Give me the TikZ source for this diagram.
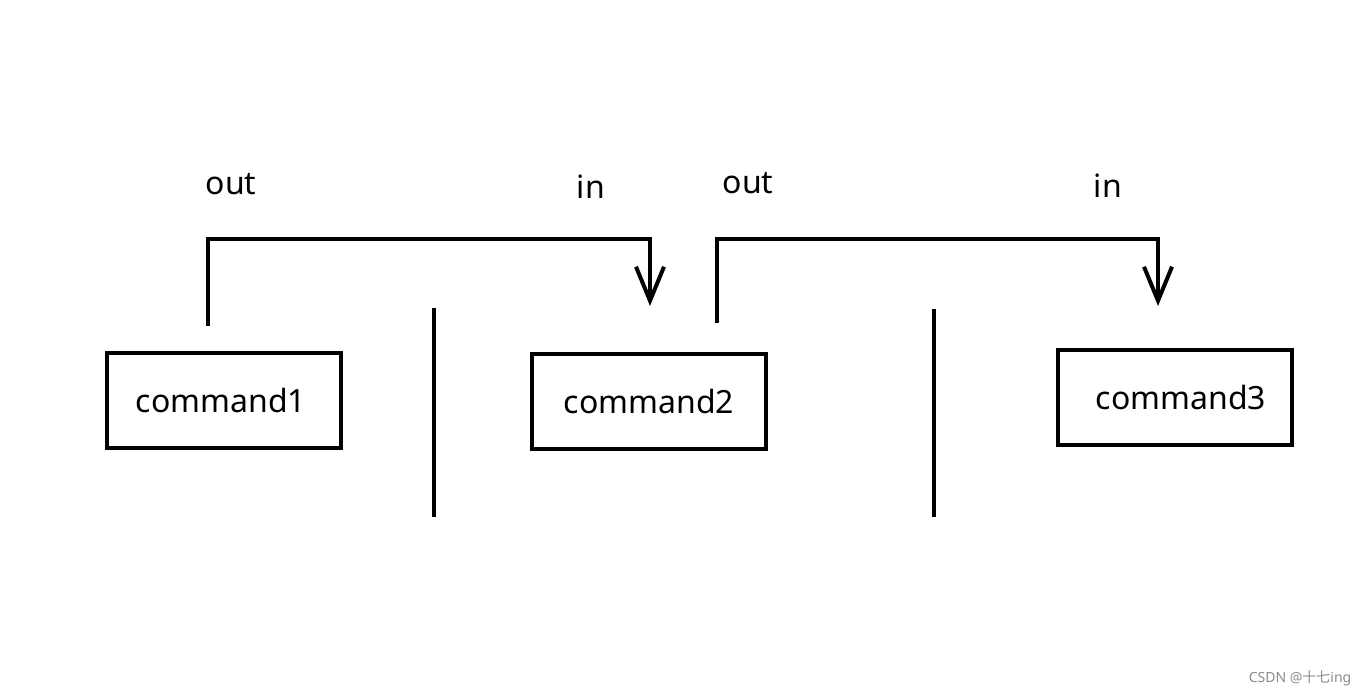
\documentclass[tikz,border=0pt]{standalone}
\usepackage{fontspec}
\setmainfont{Noto Sans}
\newfontfamily\cjk{Noto Sans CJK SC}
\usetikzlibrary{arrows.meta}
\begin{document}
\begin{tikzpicture}[x=1pt,y=-1pt,
  cmdbox/.style={draw,line width=4pt,minimum width=234pt,minimum height=95pt,inner sep=0pt,font=\fontsize{32}{38}\selectfont},
  lbl/.style={font=\fontsize{32}{38}\selectfont,inner sep=0pt},
  flow/.style={line width=4pt,-{Straight Barb[length=34pt,width=28pt,line width=4pt]}},
  bar/.style={line width=4pt}]
\useasboundingbox[fill=white] (0,0) rectangle (1368,696);
\node[cmdbox] (c1) at (224,400.5) {command1\hspace*{6pt}};
\node[cmdbox] (c2) at (649,401.5) {command2};
\node[cmdbox] (c3) at (1175,397.5) {\hspace*{12pt}command3};
\coordinate (o1) at (208,326);
\coordinate (i1) at (650,306);
\coordinate (o2) at (717,323);
\coordinate (i2) at (1158,306);
\draw[flow] (o1) |- (650,239) -- (i1);
\draw[flow] (o2) |- (1158,239) -- (i2);
\coordinate (b1t) at (434,308); \coordinate (b1b) at (434,517);
\coordinate (b2t) at (934,309); \coordinate (b2b) at (934,517);
\draw[bar] (b1t) -- (b1b);
\draw[bar] (b2t) -- (b2b);
\node[lbl] (out1) at (231,184) {out};
\node[lbl] (in1) at (591,187) {in};
\node[lbl] (out2) at (748,183) {out};
\node[lbl] (in2) at (1108,186) {in};
\node[text=black!45,font=\fontsize{14}{16}\selectfont,inner sep=0pt] (wm) at (1300,678) {CSDN @{\cjk 十七}ing};
\end{tikzpicture}
\end{document}
